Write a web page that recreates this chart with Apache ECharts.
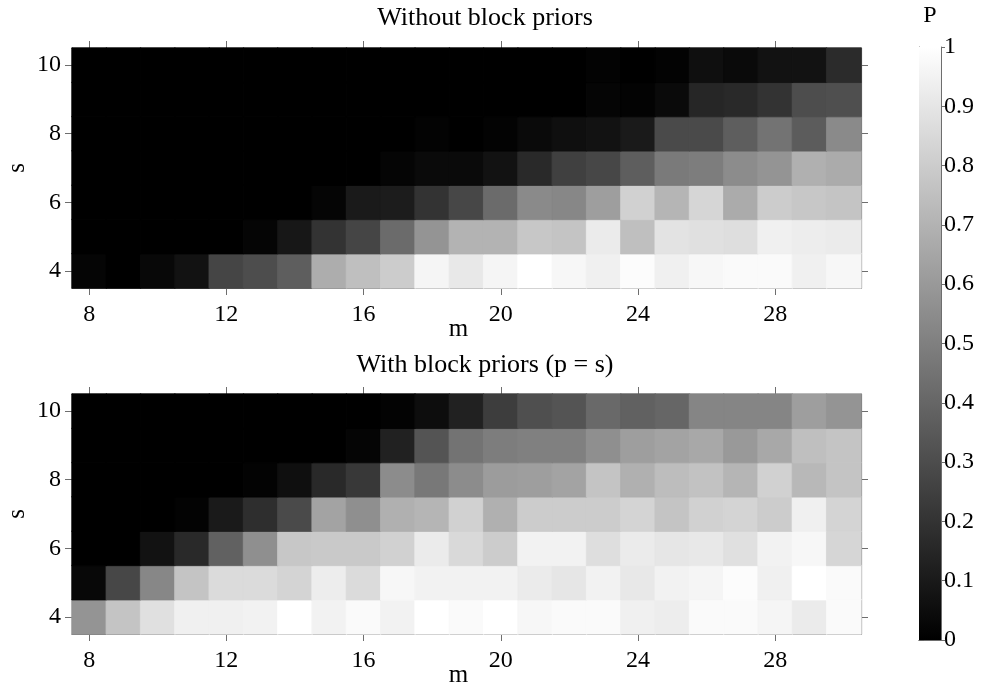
<!DOCTYPE html>
<html>
<head>
<meta charset="utf-8">
<script src="https://cdn.jsdelivr.net/npm/echarts@6/dist/echarts.min.js"></script>
<style>
  html, body { margin: 0; padding: 0; background: #fff; }
  #chart { width: 981px; height: 685px; }
</style>
</head>
<body>
<div id="chart"></div>
<script>
// Number of measurements m (columns) and sparsity s (rows)
const mValues = ['8','9','10','11','12','13','14','15','16','17','18','19','20','21','22','23','24','25','26','27','28','29','30'];
const sValues = ['4','5','6','7','8','9','10'];

// Recovery probability P without block priors, one row per s (s = 4 ... 10), m = 8 ... 30
const pWithout_s4  = [0.02,0.00,0.03,0.07,0.27,0.30,0.37,0.68,0.75,0.80,0.96,0.91,0.96,1.00,0.97,0.94,0.99,0.94,0.97,0.98,0.98,0.94,0.97];
const pWithout_s5  = [0.00,0.00,0.00,0.00,0.00,0.02,0.09,0.20,0.27,0.42,0.58,0.70,0.70,0.78,0.77,0.92,0.75,0.89,0.88,0.87,0.94,0.93,0.92];
const pWithout_s6  = [0.00,0.00,0.00,0.00,0.00,0.00,0.00,0.02,0.10,0.11,0.20,0.28,0.42,0.54,0.53,0.62,0.82,0.71,0.84,0.67,0.80,0.78,0.77];
const pWithout_s7  = [0.00,0.00,0.00,0.00,0.00,0.00,0.00,0.00,0.00,0.02,0.04,0.04,0.07,0.16,0.25,0.28,0.37,0.48,0.49,0.55,0.58,0.69,0.67];
const pWithout_s8  = [0.00,0.00,0.00,0.00,0.00,0.00,0.00,0.00,0.00,0.00,0.01,0.00,0.01,0.04,0.06,0.07,0.10,0.29,0.29,0.37,0.45,0.36,0.54];
const pWithout_s9  = [0.00,0.00,0.00,0.00,0.00,0.00,0.00,0.00,0.00,0.00,0.00,0.00,0.00,0.00,0.00,0.02,0.01,0.04,0.15,0.16,0.20,0.30,0.31];
const pWithout_s10 = [0.00,0.00,0.00,0.00,0.00,0.00,0.00,0.00,0.00,0.00,0.00,0.00,0.00,0.00,0.00,0.01,0.00,0.01,0.06,0.04,0.07,0.07,0.17];

// Recovery probability P with block priors (p = s)
const pWith_s4  = [0.58,0.77,0.88,0.94,0.94,0.95,1.00,0.95,0.98,0.95,1.00,0.98,1.00,0.97,0.98,0.98,0.94,0.93,0.98,0.98,0.96,0.92,0.98];
const pWith_s5  = [0.03,0.28,0.53,0.77,0.86,0.86,0.83,0.93,0.86,0.97,0.95,0.95,0.95,0.92,0.90,0.95,0.91,0.95,0.96,0.99,0.94,1.00,0.98];
const pWith_s6  = [0.00,0.00,0.07,0.16,0.38,0.56,0.78,0.79,0.79,0.82,0.92,0.85,0.80,0.95,0.95,0.87,0.92,0.90,0.91,0.88,0.95,0.97,0.84];
const pWith_s7  = [0.00,0.00,0.00,0.01,0.10,0.18,0.29,0.64,0.56,0.69,0.71,0.82,0.69,0.80,0.80,0.80,0.83,0.77,0.82,0.83,0.80,0.94,0.83];
const pWith_s8  = [0.00,0.00,0.00,0.00,0.00,0.01,0.06,0.16,0.22,0.55,0.47,0.55,0.61,0.62,0.64,0.77,0.69,0.74,0.76,0.71,0.82,0.72,0.77];
const pWith_s9  = [0.00,0.00,0.00,0.00,0.00,0.00,0.00,0.00,0.02,0.13,0.33,0.45,0.49,0.50,0.50,0.56,0.62,0.64,0.66,0.60,0.66,0.75,0.77];
const pWith_s10 = [0.00,0.00,0.00,0.00,0.00,0.00,0.00,0.00,0.00,0.01,0.05,0.13,0.24,0.31,0.33,0.41,0.38,0.40,0.52,0.52,0.52,0.62,0.58];

// Colour bar ticks
const colorbarMin = 0;
const colorbarMax = 1;
const colorbarStep = 0.1;

const rowsWithout = [pWithout_s4, pWithout_s5, pWithout_s6, pWithout_s7, pWithout_s8, pWithout_s9, pWithout_s10];
const rowsWith = [pWith_s4, pWith_s5, pWith_s6, pWith_s7, pWith_s8, pWith_s9, pWith_s10];

// Same linear gray ramp as the visualMap; used for a hairline border so
// neighbouring cells meet without anti-aliasing seams.
function grayOf(v) {
  const t = (v - colorbarMin) / (colorbarMax - colorbarMin);
  const g = Math.round(Math.max(0, Math.min(1, t)) * 255);
  return 'rgb(' + g + ',' + g + ',' + g + ')';
}

function toCells(rows) {
  const out = [];
  rows.forEach((row, j) => row.forEach((v, i) => out.push({
    value: [i, j, v],
    itemStyle: { borderColor: grayOf(v), borderWidth: 0.8 }
  })));
  return out;
}

const FONT = "'Liberation Serif', 'Times New Roman', serif";
const FRAME = '#6e6e6e';
const everyFourth = (i) => i % 4 === 0;
const everyOther = (i) => i % 2 === 0;

function xAxes(gridIndex) {
  const base = {
    type: 'category', data: mValues, gridIndex,
    axisLine: { show: true, lineStyle: { color: FRAME, width: 1.2 } },
    axisTick: { show: true, alignWithLabel: true, interval: everyFourth, length: 7, lineStyle: { color: FRAME } },
    splitLine: { show: false }
  };
  return [
    Object.assign({}, base, {
      position: 'bottom',
      axisLabel: { interval: everyFourth, color: '#000', fontFamily: FONT, fontSize: 24, margin: 15 },
      name: 'm', nameLocation: 'middle', nameGap: 29, nameMoveOverlap: false,
      nameTextStyle: { color: '#000', fontFamily: FONT, fontSize: 25, padding: [0, 16, 0, 0] }
    }),
    Object.assign({}, base, { position: 'top', axisLabel: { show: false } })
  ];
}

function yAxes(gridIndex) {
  const base = {
    type: 'category', data: sValues, gridIndex,
    axisLine: { show: true, lineStyle: { color: FRAME, width: 1.2 } },
    axisTick: { show: true, alignWithLabel: true, interval: everyOther, length: 7, lineStyle: { color: FRAME } },
    splitLine: { show: false }
  };
  return [
    Object.assign({}, base, {
      position: 'left',
      axisLabel: { interval: everyOther, color: '#000', fontFamily: FONT, fontSize: 24, margin: 11 },
      name: 's', nameLocation: 'middle', nameGap: 42, nameMoveOverlap: false,
      nameTextStyle: { color: '#000', fontFamily: FONT, fontSize: 25 }
    }),
    Object.assign({}, base, { position: 'right', axisLabel: { show: false } })
  ];
}

const chart = echarts.init(document.getElementById('chart'), null, { renderer: 'canvas' });

const option = {
  animation: false,
  backgroundColor: '#fff',
  grid: [
    { left: 72, top: 48, width: 789, height: 240, outerBoundsMode: 'none', containLabel: false },
    { left: 72, top: 394, width: 789, height: 240, outerBoundsMode: 'none', containLabel: false },
    { left: 919, top: 47, width: 22, height: 593, outerBoundsMode: 'none', containLabel: false }
  ],
  xAxis: [
    ...xAxes(0),
    ...xAxes(1),
    { type: 'category', data: ['P'], gridIndex: 2, position: 'bottom',
      axisLine: { show: true, lineStyle: { color: FRAME } }, axisTick: { show: false }, axisLabel: { show: false } },
    { type: 'category', data: ['P'], gridIndex: 2, position: 'top',
      axisLine: { show: true, lineStyle: { color: FRAME } }, axisTick: { show: false }, axisLabel: { show: false } }
  ],
  yAxis: [
    ...yAxes(0),
    ...yAxes(1),
    { type: 'value', gridIndex: 2, position: 'right', min: colorbarMin, max: colorbarMax, interval: colorbarStep,
      axisLine: { show: true, lineStyle: { color: FRAME } },
      axisTick: { show: true, length: 4, lineStyle: { color: FRAME } },
      axisLabel: { color: '#000', fontFamily: FONT, fontSize: 24, margin: 3 },
      splitLine: { show: false } },
    { type: 'value', gridIndex: 2, position: 'left', min: colorbarMin, max: colorbarMax, interval: colorbarStep,
      axisLine: { show: true, lineStyle: { color: FRAME } },
      axisTick: { show: true, inside: true, length: 5, lineStyle: { color: '#666' } },
      axisLabel: { show: false }, splitLine: { show: false } }
  ],
  visualMap: {
    show: false, type: 'continuous', min: colorbarMin, max: colorbarMax,
    seriesIndex: [0, 1], inRange: { color: ['#000000', '#ffffff'] }
  },
  graphic: [
    { type: 'text', x: 485, y: 18, style: { text: 'Without block priors', font: '26px ' + FONT, fill: '#000', textAlign: 'center', textVerticalAlign: 'middle' } },
    { type: 'text', x: 485, y: 365, style: { text: 'With block priors (p = s)', font: '26px ' + FONT, fill: '#000', textAlign: 'center', textVerticalAlign: 'middle' } },
    { type: 'text', x: 930, y: 16, style: { text: 'P', font: '24px ' + FONT, fill: '#000', textAlign: 'center', textVerticalAlign: 'middle' } }
  ],
  series: [
    { type: 'heatmap', xAxisIndex: 0, yAxisIndex: 0, data: toCells(rowsWithout), emphasis: { disabled: true } },
    { type: 'heatmap', xAxisIndex: 2, yAxisIndex: 2, data: toCells(rowsWith), emphasis: { disabled: true } },
    { type: 'bar', xAxisIndex: 4, yAxisIndex: 4, data: [colorbarMax], barWidth: '100%', silent: true,
      itemStyle: { color: new echarts.graphic.LinearGradient(0, 0, 0, 1, [
        { offset: 0, color: '#ffffff' }, { offset: 1, color: '#000000' }
      ]) } }
  ]
};

chart.setOption(option);
</script>
</body>
</html>
